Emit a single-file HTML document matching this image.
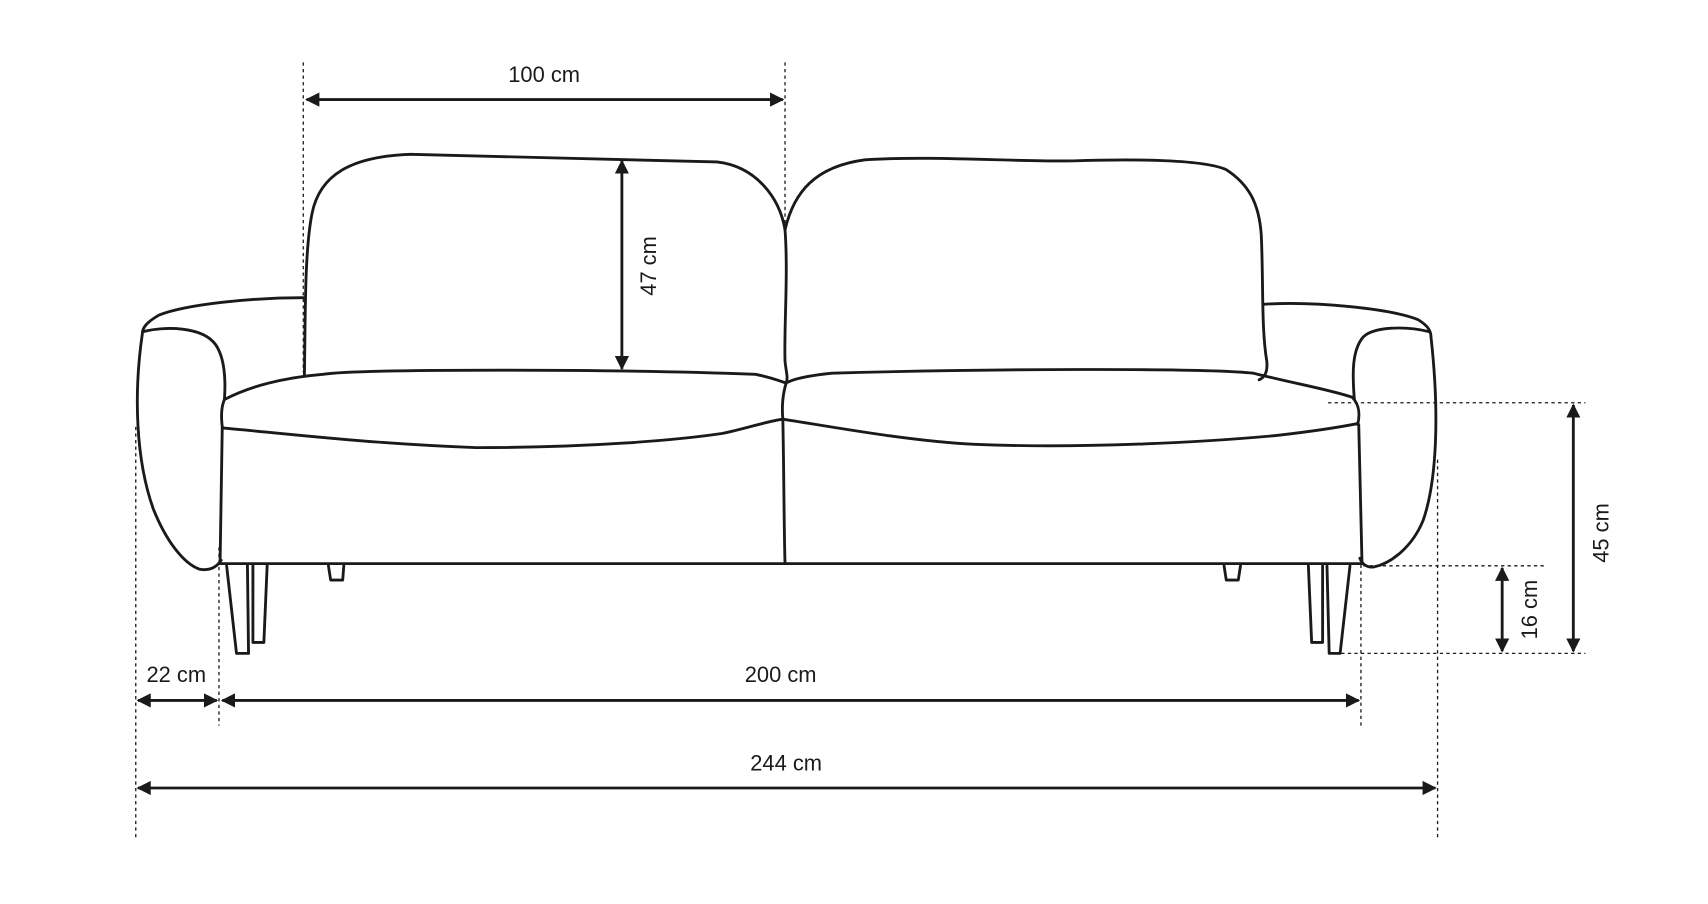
<!DOCTYPE html>
<html><head><meta charset="utf-8"><style>html,body{margin:0;padding:0;background:#fff}svg{display:block}</style></head>
<body>
<svg width="1708" height="904" viewBox="0 0 1560 826" preserveAspectRatio="none" xmlns="http://www.w3.org/2000/svg">
<defs>
<marker id="a" viewBox="0 0 10 10" refX="9" refY="5" markerWidth="5" markerHeight="5" orient="auto-start-reverse"><path d="M0,0 L10,5 L0,10 Z" fill="#1a1a1a"/></marker>
</defs>
<g fill="none" stroke="#1a1a1a" stroke-width="2.6" stroke-linejoin="round" stroke-linecap="round">
<!-- left arm -->
<path d="M277,272 C230,272 170,278 145,288 C133,295 130,300 130,305 C122,360 124,420 140,465 C152,495 168,515 182,520 C192,522 198,518 202,512"/>
<path d="M131,303 C150,298 185,298 197,315 C206,328 206,350 205,365"/>
<!-- right arm -->
<path d="M1155,278 C1200,275 1270,282 1295,292 C1305,298 1307,303 1307,308 C1315,380 1312,440 1300,475 C1290,500 1270,515 1255,518 C1248,519 1244,515 1242,510"/>
<path d="M1305,303 C1285,298 1255,298 1245,308 C1235,320 1235,340 1237,365"/>
<!-- back cushions -->
<path d="M278,343 C279,290 278,230 285,195 C292,160 320,143 375,141 L655,148 C690,152 712,180 717,210 C720,250 716,300 717,330 C718,340 720,345 718,350"/>
<path d="M717,210 C725,175 745,152 790,146 C850,142 930,148 980,147 C1040,145 1100,146 1120,155 C1140,168 1150,185 1152,215 C1154,260 1152,300 1157,330 C1158,340 1155,345 1150,347"/>
<!-- seats -->
<path d="M205,365 C230,352 260,345 295,342 C330,337 560,337 690,342 C705,345 712,348 718,350 C725,346 740,343 760,341 C900,337 1100,336 1145,341 C1180,350 1215,356 1235,363 C1242,370 1242,380 1240,388"/>
<path d="M205,365 C202,372 202,382 203,390"/>
<path d="M203,391 C250,395 330,405 435,409 C540,409 620,402 660,396 C680,392 700,385 715,383 C760,390 830,403 890,406 C990,410 1100,404 1165,398 C1200,394 1225,390 1240,387"/>
<path d="M718,350 C715,360 714,372 715,383"/>
<!-- base -->
<path d="M203,390 L201,515 L1244,515 L1241,388"/>
<path d="M715,383 C716,430 716,480 717,515"/>
<!-- legs -->
<path d="M207,517 L216,597 L227,597 L226,517"/>
<path d="M231,517 L231,587 L241,587 L244,517"/>
<path d="M300,517 L302,530 L313,530 L314,517"/>
<path d="M1118,517 L1120,530 L1131,530 L1133,517"/>
<path d="M1195,517 L1198,587 L1208,587 L1208,517"/>
<path d="M1212,517 L1214,597 L1224,597 L1233,517"/>
</g>
<g stroke="#1a1a1a" stroke-width="1.2" stroke-dasharray="3,3" fill="none">
<path d="M277,57 V340 M717,57 V210 M124,390 V765 M200,500 V663 M1243,510 V663 M1313,420 V765 M1213,368 H1448 M1245,517 H1410 M1225,597 H1448"/>
</g>
<g stroke="#1a1a1a" stroke-width="2.6" fill="none" marker-start="url(#a)" marker-end="url(#a)">
<path d="M280,91 H715"/>
<path d="M568,147 V337"/>
<path d="M1437,370 V595"/>
<path d="M1372,519 V595"/>
<path d="M126,640 H198"/>
<path d="M203,640 H1241"/>
<path d="M126,720 H1311"/>
</g>
<g font-family="Liberation Sans, sans-serif" font-size="20" fill="#1a1a1a" text-anchor="middle">
<text x="497" y="75">100 cm</text>
<text x="161" y="623">22 cm</text>
<text x="713" y="623">200 cm</text>
<text x="718" y="704">244 cm</text>
<text transform="translate(599,243) rotate(-90)">47 cm</text>
<text transform="translate(1469,487) rotate(-90)">45 cm</text>
<text transform="translate(1404,557) rotate(-90)">16 cm</text>
</g>
</svg>
</body></html>
